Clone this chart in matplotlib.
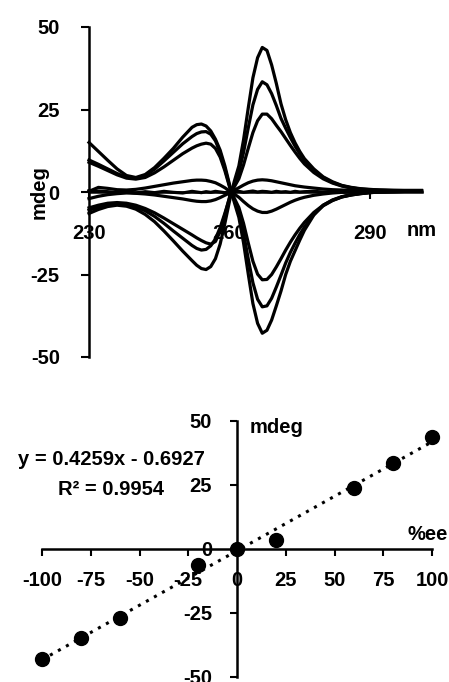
import matplotlib.pyplot as plt
import numpy as np

plt.rcParams['font.family'] = ['Liberation Sans', 'DejaVu Sans']
plt.rcParams['font.weight'] = 'bold'
plt.rcParams['axes.labelweight'] = 'bold'
plt.rcParams['font.size'] = 14.5
plt.rcParams['axes.unicode_minus'] = False

# CD spectra (mdeg), one per %ee sample
wl = [230, 232, 234, 236, 238, 240, 242, 244, 246, 248, 250, 252,
      253, 254, 255, 256, 257, 258, 259, 260, 261, 262, 263, 264,
      265, 266, 267, 268, 269, 270, 271, 272, 273, 274, 275, 276,
      278, 280, 282, 284, 286, 288, 290, 292,
      295, 298, 301]

cd_p100 = [-6.5, -5.3, -4.4, -4.0, -4.3, -5.2, -6.8, -9.0, -11.8, -14.8, -17.9, -20.8,
           -22.2, -23.2, -23.5, -22.6, -20.2, -15.8, -9.6, -2.8, 3.1, 7.9, 15.8, 25.4,
           34.6, 40.7, 43.8, 42.9, 38.5, 32.9, 26.7, 21.9, 18.0, 14.9, 12.3, 10.1,
           7.0, 4.6, 3.1, 2.0, 1.4, 1.0, 0.8, 0.6,
           0.5, 0.5, 0.5]
cd_p80 = [-5.5, -4.6, -3.9, -3.6, -3.8, -4.5, -5.7, -7.4, -9.5, -11.8, -14.0, -16.2,
          -17.1, -17.6, -17.4, -16.3, -14.2, -10.8, -6.5, -1.9, 2.3, 6.0, 12.0, 19.4,
          26.4, 31.1, 33.4, 32.5, 29.8, 26.2, 22.3, 19.3, 16.5, 13.9, 11.6, 9.6,
          6.6, 4.4, 2.9, 1.9, 1.3, 0.9, 0.7, 0.6,
          0.5, 0.4, 0.4]
cd_p60 = [-4.8, -4.0, -3.4, -3.2, -3.4, -4.0, -5.0, -6.3, -7.9, -9.6, -11.3, -13.0,
          -13.9, -14.7, -15.4, -15.8, -15.0, -12.0, -7.0, -1.6, 1.5, 4.0, 8.2, 13.2,
          18.0, 21.6, 23.6, 23.6, 22.2, 20.2, 18.3, 16.2, 14.1, 12.1, 10.2, 8.5,
          5.9, 4.0, 2.7, 1.8, 1.2, 0.8, 0.6, 0.5,
          0.4, 0.4, 0.3]
cd_p20 = [-2.0, -1.3, -0.8, -0.5, -0.3, -0.4, -0.6, -0.9, -1.3, -1.7, -2.1, -2.6,
          -2.8, -2.9, -2.9, -2.7, -2.3, -1.7, -1.0, -0.3, 0.5, 1.3, 2.1, 2.8,
          3.3, 3.6, 3.7, 3.6, 3.4, 3.1, 2.8, 2.5, 2.2, 1.9, 1.7, 1.5,
          1.2, 0.9, 0.7, 0.6, 0.5, 0.4, 0.4, 0.4,
          0.3, 0.3, 0.3]
cd_e0 = [0.4, 0.3, 0.1, -0.2, 0.0, -0.3, 0.1, -0.2, 0.2, -0.1, -0.3, 0.2,
         0.0, -0.2, 0.1, -0.1, 0.2, 0.0, -0.2, 0.1, 0.0, 0.2, -0.1, 0.1,
         0.3, 0.0, 0.2, 0.1, -0.1, 0.2, 0.0, 0.1, -0.1, 0.2, 0.0, 0.1,
         0.2, 0.0, 0.1, 0.2, 0.1, 0.2, 0.2, 0.3,
         0.3, 0.3, 0.3]
cd_n20 = [0.2, 1.4, 1.1, 0.7, 0.6, 0.8, 1.2, 1.7, 2.2, 2.7, 3.1, 3.5,
          3.6, 3.6, 3.5, 3.2, 2.8, 2.1, 1.3, 0.3, -0.6, -1.6, -2.9, -4.1,
          -5.1, -5.8, -6.2, -6.2, -5.8, -5.2, -4.5, -3.8, -3.1, -2.5, -2.0, -1.6,
          -1.0, -0.6, -0.3, -0.1, 0.0, 0.1, 0.2, 0.2,
          0.2, 0.3, 0.3]
cd_n60 = [9.0, 7.8, 6.5, 5.2, 4.2, 3.9, 4.4, 5.8, 7.6, 9.6, 11.6, 13.3,
          14.0, 14.5, 14.8, 14.5, 13.2, 10.6, 6.5, 1.6, -1.8, -4.7, -9.5, -15.4,
          -21.0, -24.9, -26.6, -26.5, -25.0, -22.7, -20.2, -17.6, -15.2, -13.0, -11.0, -9.2,
          -6.2, -4.0, -2.5, -1.5, -0.9, -0.5, -0.2, 0.0,
          0.1, 0.2, 0.2]
cd_n80 = [9.7, 8.4, 7.0, 5.6, 4.5, 4.2, 5.0, 6.9, 9.4, 12.0, 14.6, 16.8,
          17.7, 18.2, 18.3, 17.5, 15.5, 12.0, 7.2, 1.9, -2.4, -6.2, -12.5, -20.2,
          -27.5, -32.5, -34.8, -34.5, -32.2, -28.8, -25.2, -21.5, -18.3, -15.5, -12.9, -10.6,
          -6.8, -4.2, -2.6, -1.5, -0.9, -0.5, -0.2, 0.0,
          0.1, 0.2, 0.2]
cd_n100 = [15.0, 12.3, 9.6, 7.0, 5.0, 4.4, 5.3, 7.4, 10.2, 13.2, 16.6, 19.6,
           20.4, 20.6, 20.0, 18.5, 16.0, 12.7, 8.0, 2.3, -3.0, -7.7, -15.4, -24.8,
           -33.8, -39.8, -42.8, -41.9, -38.8, -34.5, -30.0, -25.0, -21.0, -17.8, -14.6, -11.6,
           -7.0, -4.0, -2.4, -1.4, -0.8, -0.4, -0.1, 0.0,
           0.1, 0.2, 0.2]

# calibration: CD at the band maximum vs enantiomeric excess
ee = [-100, -80, -60, -20, 0, 20, 60, 80, 100]
mdeg = [-42.8, -34.9, -27.0, -6.1, 0.0, 3.6, 23.8, 33.4, 43.8]
eq_text = 'y = 0.4259x - 0.6927'
r2_text = 'R² = 0.9954'

fig = plt.figure(figsize=(4.49, 6.82), dpi=100)

# --- top: spectra ---
ax1 = fig.add_axes([89 / 449, 325 / 682, 332.5 / 449, 330 / 682])
for cd in [cd_p100, cd_p80, cd_p60, cd_p20, cd_e0, cd_n20, cd_n60, cd_n80, cd_n100]:
    ax1.plot(wl, cd, color='black', lw=2.3, solid_joinstyle='round', clip_on=False)
ax1.set_xlim(230, 301)
ax1.set_ylim(-50, 50)
for s in ['top', 'right']:
    ax1.spines[s].set_visible(False)
ax1.spines['bottom'].set_position(('data', 0))
for s in ['left', 'bottom']:
    ax1.spines[s].set_linewidth(1.8)
ax1.set_xticks([230, 260, 290])
ax1.set_yticks([-50, -25, 0, 25, 50])
ax1.tick_params(axis='x', direction='out', length=5, width=1.5, pad=18)
ax1.tick_params(axis='y', direction='out', length=6, width=1.5, pad=15)
ax1.text(301, -11.6, 'nm', ha='center', va='center', clip_on=False)
ax1.set_ylabel('mdeg')
ax1.yaxis.set_label_coords(-0.12, 0.5)

# --- bottom: calibration line ---
ax2 = fig.add_axes([42 / 449, 5 / 682, 390 / 449, 256 / 682])
fit = np.polyfit(ee, mdeg, 1)
xs = np.array([min(ee), max(ee)])
ax2.plot(xs, np.polyval(fit, xs), color='black', lw=2.2, ls=(0, (1, 2)), zorder=2)
ax2.scatter(ee, mdeg, s=100, color='black', zorder=3, clip_on=False)
ax2.set_xlim(-100, 100)
ax2.set_ylim(-50, 50)
for s in ['top', 'right']:
    ax2.spines[s].set_visible(False)
ax2.spines['bottom'].set_position(('data', 0))
ax2.spines['left'].set_position(('data', 0))
for s in ['left', 'bottom']:
    ax2.spines[s].set_linewidth(1.8)
ax2.set_xticks(range(-100, 101, 25))
ax2.set_yticks([-50, -25, 0, 25, 50])
ax2.tick_params(axis='x', direction='out', length=5, width=1.5, pad=11)
ax2.tick_params(axis='y', direction='out', length=5, width=1.5, pad=13)
ax2.text(20.5, 47.3, 'mdeg', ha='center', va='center')
ax2.text(98, 5.5, '%ee', ha='center', va='center', clip_on=False)
ax2.text(-64.6, 34.8, eq_text, ha='center', va='center')
ax2.text(-64.6, 23.4, r2_text, ha='center', va='center')

fig.savefig('out.png', dpi=100)
